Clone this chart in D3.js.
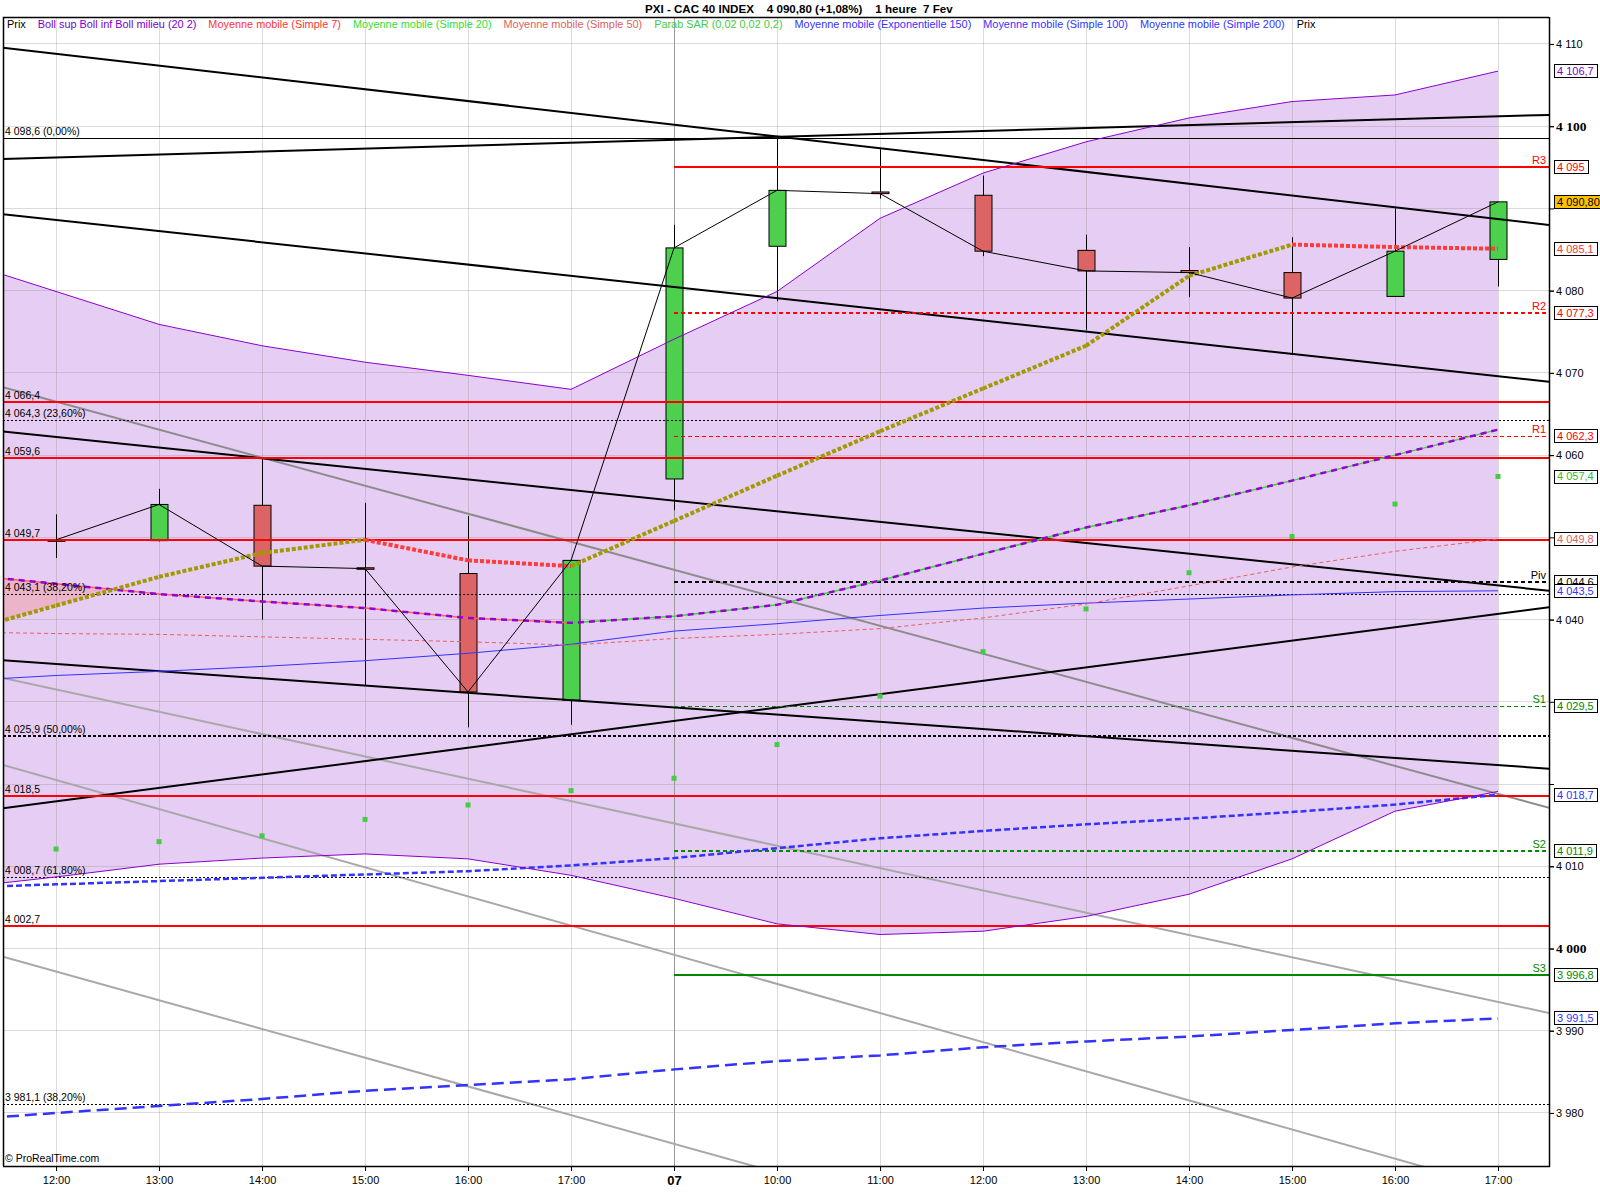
<!DOCTYPE html>
<html><head><meta charset="utf-8">
<script src="https://cdn.jsdelivr.net/npm/d3@7"></script>
<style>
body{margin:0;background:#fff}
svg{display:block}
text{font-family:"Liberation Sans",Arial,sans-serif}
</style>
</head><body>
<svg id="chart" width="1600" height="1200"></svg>
<script>
// ================= DATA =================
const timeLabels = ["12:00","13:00","14:00","15:00","16:00","17:00","07","10:00","11:00","12:00","13:00","14:00","15:00","16:00","17:00"];
const candleOpen  = [4049.7, 4049.6, 4053.9, 4046.3, 4045.6, 4030.2, 4057.1, 4085.4, 4092.0, 4091.6, 4084.9, 4082.45, 4082.2, 4079.3, 4083.8];
const candleHigh  = [4052.8, 4055.9, 4059.6, 4054.2, 4052.6, 4047.2, 4088.0, 4098.6, 4097.2, 4094.0, 4086.8, 4085.3, 4086.5, 4090.0, 4090.8];
const candleLow   = [4047.5, 4049.5, 4040.0, 4032.0, 4026.9, 4027.2, 4053.3, 4078.7, 4091.2, 4084.2, 4075.2, 4079.2, 4072.4, 4079.3, 4080.5];
const candleClose = [4049.7, 4054.0, 4046.5, 4046.2, 4031.2, 4047.2, 4085.2, 4092.2, 4091.8, 4084.8, 4082.4, 4082.2, 4079.1, 4084.8, 4090.8];

// indicator series start one bar before the first visible bar (bar -1)
const indicatorFirstBar = -1;
const bollUpper  = [4083.9, 4079.9, 4075.9, 4073.3, 4071.3, 4069.7, 4068.0, 4074.1, 4079.9, 4088.8, 4094.3, 4098.1, 4101.0, 4103.0, 4103.8, 4106.7];
const bollLower  = [4007.3, 4008.7, 4010.25, 4011.0, 4011.5, 4010.9, 4008.9, 4006.1, 4003.0, 4001.7, 4002.1, 4003.9, 4006.6, 4010.9, 4016.7, 4019.1];
const bollMiddle = [4045.6, 4044.35, 4043.1, 4042.2, 4041.4, 4040.2, 4039.6, 4040.4, 4041.8, 4044.75, 4048.0, 4051.2, 4053.9, 4056.9, 4060.0, 4063.1];
const sma7       = [4038.2, 4041.7, 4045.2, 4048.1, 4049.7, 4047.2, 4046.5, 4052.0, 4057.5, 4062.9, 4068.1, 4073.3, 4081.8, 4085.6, 4085.3, 4085.1];
const sma20      = bollMiddle.slice();
const sma50      = [4038.5, 4038.3, 4038.2, 4037.9, 4037.6, 4037.3, 4036.9, 4037.7, 4038.2, 4038.9, 4040.2, 4041.9, 4044.1, 4046.4, 4048.3, 4049.8];
const ema150     = [4032.5, 4033.2, 4033.7, 4034.3, 4035.0, 4035.9, 4037.0, 4038.6, 4039.5, 4040.5, 4041.4, 4042.0, 4042.5, 4043.0, 4043.4, 4043.5];
const sma100     = [4007.4, 4007.8, 4008.2, 4008.6, 4009.0, 4009.4, 4010.1, 4011.0, 4012.2, 4013.4, 4014.3, 4015.1, 4015.8, 4016.6, 4017.5, 4018.7];
const sma200     = [3979.1, 3980.0, 3980.85, 3981.7, 3982.7, 3983.4, 3984.1, 3985.3, 3986.3, 3987.0, 3988.0, 3988.7, 3989.3, 3990.1, 3990.9, 3991.5];
const sarValues  = [4012.1, 4013.0, 4013.7, 4015.7, 4017.45, 4019.2, 4020.7, 4024.8, 4030.7, 4036.1, 4041.3, 4045.7, 4050.1, 4054.05, 4057.4];

const redLevels      = [4066.4, 4059.6, 4049.7, 4018.5, 4002.7];
const redLevelTexts  = ["4 066,4", "4 059,6", "4 049,7", "4 018,5", "4 002,7"];
const fibLevels      = [4098.6, 4064.3, 4043.1, 4025.9, 4008.7, 3981.1];
const fibTexts       = ["4 098,6 (0,00%)", "4 064,3 (23,60%)", "4 043,1 (38,20%)", "4 025,9 (50,00%)", "4 008,7 (61,80%)", "3 981,1 (38,20%)"];
const pivotNames     = ["R3", "R2", "R1", "Piv", "S1", "S2", "S3"];
const pivotValues    = [4095, 4077.3, 4062.3, 4044.6, 4029.5, 4011.9, 3996.8];
const pivotFirstBar  = 6;

// trend lines: value at bar 0 and value at bar 14
const blackTrendStart = [4108.8, 4096.2, 4088.6, 4062.2, 4034.6, 4017.9];
const blackTrendEnd   = [4088.7, 4101.2, 4069.6, 4044.15, 4022.3, 4040.7];
const grayTrendStart  = [4066.5, 4031.5, 4020.5, 3997.2];
const grayTrendEnd    = [4018.8, 3993.5, 3970.9, 3948.3];

const yTickValues   = [3980, 3990, 4000, 4010, 4020, 4030, 4040, 4050, 4060, 4070, 4080, 4090, 4100, 4110];
const yTickLabelled = [3980, 3990, 4000, 4010, 4040, 4060, 4070, 4080, 4100, 4110];
const yTickMajor    = [4000, 4100];

const rightLabelValues = [4106.7, 4095, 4090.8, 4085.1, 4077.3, 4062.3, 4057.4, 4049.8, 4044.6, 4043.5, 4029.5, 4018.7, 4011.9, 3996.8, 3991.5];
const rightLabelTexts  = ["4 106,7", "4 095", "4 090,80", "4 085,1", "4 077,3", "4 062,3", "4 057,4", "4 049,8", "4 044,6", "4 043,5", "4 029,5", "4 018,7", "4 011,9", "3 996,8", "3 991,5"];

const legendTexts = ["Prix", "Boll sup Boll inf Boll milieu (20 2)", "Moyenne mobile (Simple 7)", "Moyenne mobile (Simple 20)", "Moyenne mobile (Simple 50)", "Parab SAR (0,02 0,02 0,2)", "Moyenne mobile (Exponentielle 150)", "Moyenne mobile (Simple 100)", "Moyenne mobile (Simple 200)", "Prix"];
const titleText = "PXI - CAC 40 INDEX    4 090,80 (+1,08%)    1 heure  7 Fev";

// ================= STYLES =================
const C = {
  band: "#E6CDF3", bandLine: "#8A00CC", pink: "#EBB4C8",
  green: "#4DD04D", red: "#DD6464", olive: "#A09A00", maRed: "#FF3B3B",
  sma20up: "#33DD33", sma20dn: "#FF6060", sma50: "#E86060", blue: "#3333FF",
  sar: "#44CC44", level: "#FF0000", dkgreen: "#008800", gray1: "#8C8C8C", gray2: "#A8A8A8"
};
const rightLabelColors = ["#7A00CC", "#FF0000", "#000", "#FF3333", "#FF0000", "#FF0000", "#33BB33", "#E06060", "#000", "#3333FF", "#008800", "#3333FF", "#008800", "#008800", "#3333FF"];
const legendColors = ["#000", "#7A00CC", "#FF3333", "#33DD33", "#E06060", "#44CC44", "#3333FF", "#3333FF", "#3333FF", "#000"];

// ================= LAYOUT =================
const L = 3, R = 1549, T = 17, B = 1166;
const svg = d3.select("#chart");
const x = d3.scaleLinear().domain([-0.515, 14.495]).range([L, R]);
const y = d3.scaleLinear().domain([3973.55, 4113.28]).range([B, T]);
const bars = d3.range(timeLabels.length);
const step = x(1) - x(0);

svg.append("rect").attr("width", 1600).attr("height", 1200).attr("fill", "#fff");
svg.append("defs").append("clipPath").attr("id", "clip")
  .append("rect").attr("x", L).attr("y", T).attr("width", R - L).attr("height", B - T);
const g = svg.append("g").attr("clip-path", "url(#clip)");

const series = arr => arr.map((v, i) => [indicatorFirstBar + i, v]);
const line = d3.line().x(d => x(d[0])).y(d => y(d[1]));

// Bollinger fill
const bandData = bollUpper.map((u, i) => ({i: indicatorFirstBar + i, u, l: bollLower[i]}));
g.append("path").datum(bandData)
  .attr("d", d3.area().x(d => x(d.i)).y0(d => y(d.l)).y1(d => y(d.u)))
  .attr("fill", C.band);

// Crossover fill (SMA7 below SMA20)
(function () {
  const a = series(sma7), b = series(sma20);
  let poly = [];
  const polys = [];
  for (let k = 0; k < a.length; k++) {
    const d = a[k][1] - b[k][1];
    if (d < 0) poly.push(k);
    if (k < a.length - 1) {
      const d2 = a[k + 1][1] - b[k + 1][1];
      if ((d < 0) !== (d2 < 0)) {
        const t = d / (d - d2);
        const xi = a[k][0] + t * (a[k + 1][0] - a[k][0]);
        const vi = a[k][1] + t * (a[k + 1][1] - a[k][1]);
        poly.push({cross: [xi, vi]});
        if (d < 0) { polys.push(poly); poly = []; }
        else poly = [{cross: [xi, vi]}];
      }
    }
  }
  if (poly.length) polys.push(poly);
  polys.forEach(p => {
    const top = [], bot = [];
    p.forEach(e => {
      if (typeof e === "number") { top.push(b[e]); bot.push(a[e]); }
      else { top.push(e.cross); bot.push(e.cross); }
    });
    const pts = top.concat(bot.reverse());
    g.append("path").attr("d", line(pts) + "Z").attr("fill", C.pink);
  });
})();

// Grid
g.selectAll(".hg").data(yTickValues).enter().append("line")
  .attr("x1", L).attr("x2", R).attr("y1", d => y(d)).attr("y2", d => y(d))
  .attr("stroke", "rgba(130,130,130,0.28)").attr("stroke-width", 1).attr("shape-rendering", "crispEdges");
g.selectAll(".vg").data(bars).enter().append("line")
  .attr("x1", d => Math.round(x(d)) + 0.5).attr("x2", d => Math.round(x(d)) + 0.5).attr("y1", T).attr("y2", B)
  .attr("stroke", d => timeLabels[d] === "07" ? "#9A9A9A" : "rgba(130,130,130,0.28)").attr("stroke-width", 1);

// Candles
const bodyW = step * 0.165;
const cg = g.append("g");
bars.forEach(i => {
  const o = candleOpen[i], c = candleClose[i];
  const cx = Math.round(x(i)) + 0.5;
  cg.append("line").attr("x1", cx).attr("x2", cx).attr("y1", y(candleHigh[i])).attr("y2", y(candleLow[i]))
    .attr("stroke", "#000").attr("stroke-width", 1);
  const top = y(Math.max(o, c)), bot = y(Math.min(o, c));
  cg.append("rect").attr("x", cx - bodyW / 2).attr("width", bodyW)
    .attr("y", top).attr("height", Math.max(bot - top, 1.5))
    .attr("fill", c >= o ? C.green : C.red).attr("stroke", "#000").attr("stroke-width", 1);
});

// Trend lines
function trend(v0, v14, color, w) {
  const d = x.domain();
  const val = t => v0 + (v14 - v0) * t / 14;
  g.append("path").attr("d", line([[d[0], val(d[0])], [d[1], val(d[1])]]))
    .attr("stroke", color).attr("stroke-width", w).attr("fill", "none");
}
grayTrendStart.forEach((v, k) => trend(v, grayTrendEnd[k], k === 0 ? C.gray1 : C.gray2, 2));
blackTrendStart.forEach((v, k) => trend(v, blackTrendEnd[k], "#000", 2));

// Horizontal levels
function hline(v, x1, color, w, dash) {
  g.append("line").attr("x1", x1).attr("x2", R).attr("y1", Math.round(y(v)) + (w % 2 ? 0.5 : 0)).attr("y2", Math.round(y(v)) + (w % 2 ? 0.5 : 0))
    .attr("stroke", color).attr("stroke-width", w).attr("stroke-dasharray", dash || null);
}
fibLevels.forEach((v, k) => {
  if (k === 0) hline(v, L, "#000", 1);
  else if (k === 3) hline(v, L, "#000", 2, "3,2");
  else hline(v, L, "#000", 1, "2,2");
});
redLevels.forEach(v => hline(v, L, C.level, 2));
const pivStyles = [
  [C.level, 2, null], [C.level, 2, "4,3"], [C.level, 1, "4,3"], ["#000", 2, "4,3"],
  [C.dkgreen, 1, "4,3"], [C.dkgreen, 2, "4,3"], [C.dkgreen, 2, null]
];
pivotValues.forEach((v, k) => hline(v, x(pivotFirstBar), pivStyles[k][0], pivStyles[k][1], pivStyles[k][2]));

// Moving averages
g.append("path").attr("d", line(series(sma200))).attr("fill", "none").attr("stroke", C.blue).attr("stroke-width", 2.5).attr("stroke-dasharray", "12,6");
g.append("path").attr("d", line(series(sma100))).attr("fill", "none").attr("stroke", C.blue).attr("stroke-width", 2.5).attr("stroke-dasharray", "6,3");
g.append("path").attr("d", line(series(ema150))).attr("fill", "none").attr("stroke", C.blue).attr("stroke-width", 1);
g.append("path").attr("d", line(series(sma50))).attr("fill", "none").attr("stroke", C.sma50).attr("stroke-width", 1).attr("stroke-dasharray", "4,3");

// Bollinger lines
g.append("path").attr("d", line(series(bollUpper))).attr("fill", "none").attr("stroke", C.bandLine).attr("stroke-width", 1);
g.append("path").attr("d", line(series(bollLower))).attr("fill", "none").attr("stroke", C.bandLine).attr("stroke-width", 1);

// SMA20 coloured by direction + Boll milieu dashed purple
const s20 = series(sma20);
for (let k = 1; k < s20.length; k++) {
  g.append("path").attr("d", line([s20[k - 1], s20[k]])).attr("fill", "none")
    .attr("stroke", s20[k][1] >= s20[k - 1][1] ? C.sma20up : C.sma20dn).attr("stroke-width", 1.5);
}
g.append("path").attr("d", line(s20)).attr("fill", "none").attr("stroke", "#9400D3").attr("stroke-width", 2.5).attr("stroke-dasharray", "6,5");

// SMA7 coloured by direction
const s7 = series(sma7);
for (let k = 1; k < s7.length; k++) {
  g.append("path").attr("d", line([s7[k - 1], s7[k]])).attr("fill", "none")
    .attr("stroke", s7[k][1] >= s7[k - 1][1] ? C.olive : C.maRed).attr("stroke-width", 4).attr("stroke-dasharray", "4,2");
}

// Parabolic SAR
g.selectAll(".sar").data(sarValues).enter().append("rect")
  .attr("x", (d, i) => x(i) - 2.5).attr("y", d => y(d) - 2.5).attr("width", 5).attr("height", 5).attr("fill", C.sar);

// Close line
g.append("path").attr("d", line(bars.map(i => [i, candleClose[i]]))).attr("fill", "none").attr("stroke", "#000").attr("stroke-width", 1);

// Left level labels
const lblG = g.append("g").attr("font-size", "10.5px").attr("fill", "#000");
fibLevels.forEach((v, k) => lblG.append("text").attr("x", 5).attr("y", y(v) - 3).text(fibTexts[k]));
redLevels.forEach((v, k) => lblG.append("text").attr("x", 5).attr("y", y(v) - 3).text(redLevelTexts[k]));
pivotValues.forEach((v, k) => g.append("text").attr("x", R - 3).attr("y", y(v) - 3).attr("text-anchor", "end")
  .attr("font-size", "11px").attr("fill", pivStyles[k][0] === C.level ? "#FF0000" : pivStyles[k][0]).text(pivotNames[k]));

// ProRealTime mark
g.append("text").attr("x", 5).attr("y", B - 4).attr("font-size", "10.5px").attr("fill", "#000").text("\u00A9 ProRealTime.com");

// Frame
svg.append("path").attr("d", `M${L + 0.5},${B}V${T + 0.5}H${R}`).attr("stroke", "#000").attr("fill", "none").attr("stroke-width", 1.5);
svg.append("line").attr("x1", R + 0.5).attr("x2", R + 0.5).attr("y1", T).attr("y2", B + 1).attr("stroke", "#000").attr("stroke-width", 1.5);
svg.append("line").attr("x1", L).attr("x2", R + 1).attr("y1", B + 0.5).attr("y2", B + 0.5).attr("stroke", "#000").attr("stroke-width", 1.5);

// X axis
const xAxis = svg.append("g").attr("transform", `translate(0,${B + 1})`)
  .call(d3.axisBottom(x).tickValues(bars).tickSize(4).tickPadding(5).tickFormat(i => timeLabels[i]));
xAxis.select(".domain").remove();
xAxis.selectAll("text").attr("font-family", "'Liberation Sans', Arial, sans-serif").attr("font-size", "11px").attr("fill", "#000")
  .attr("font-weight", i => timeLabels[i] === "07" ? "bold" : null)
  .style("font-size", i => timeLabels[i] === "07" ? "13px" : "11px");

// Y axis
const fr = d3.formatLocale({decimal: ",", thousands: " ", grouping: [3], currency: ["", ""]});
const fmt0 = fr.format(",.0f");
const yAxisMarks = svg.append("g").attr("transform", `translate(${R},0)`)
  .call(d3.axisRight(y).tickValues(yTickValues).tickSize(5).tickFormat(""));
yAxisMarks.select(".domain").remove();
const yAxisLbl = svg.append("g").attr("transform", `translate(${R},0)`)
  .call(d3.axisRight(y).tickValues(yTickLabelled).tickSize(5).tickPadding(2).tickFormat(fmt0));
yAxisLbl.select(".domain").remove();
yAxisLbl.selectAll("text").attr("fill", "#000")
  .style("font-family", d => yTickMajor.includes(d) ? "'Liberation Serif', serif" : "'Liberation Sans', Arial, sans-serif")
  .style("font-weight", d => yTickMajor.includes(d) ? "bold" : "normal")
  .style("font-size", d => yTickMajor.includes(d) ? "13.5px" : "11px");

// Right value labels
const rl = svg.append("g");
rightLabelValues.forEach((v, k) => {
  const gg = rl.append("g");
  const t = gg.append("text").attr("x", R + 8).attr("y", y(v)).attr("dy", "0.36em")
    .attr("font-size", "11px").attr("fill", rightLabelColors[k]).text(rightLabelTexts[k]);
  const w = t.node().getComputedTextLength();
  gg.insert("rect", "text").attr("x", R + 5.5).attr("y", Math.round(y(v)) - 6.5).attr("width", Math.round(w) + 6).attr("height", 13)
    .attr("fill", k === 2 ? "#FFC000" : "#fff").attr("stroke", "#000").attr("stroke-width", 1);
});

// Legend
let lx = 7;
legendTexts.forEach((t, k) => {
  const tx = svg.append("text").attr("x", lx).attr("y", 28).attr("font-size", "10.9px").attr("fill", legendColors[k]).text(t);
  lx += tx.node().getComputedTextLength() + 12;
});

// Title
svg.append("text").attr("x", 645).attr("y", 13).attr("font-size", "11.6px").attr("font-weight", "bold")
  .attr("fill", "#000").attr("xml:space", "preserve").style("white-space", "pre").text(titleText);
</script>
</body></html>
